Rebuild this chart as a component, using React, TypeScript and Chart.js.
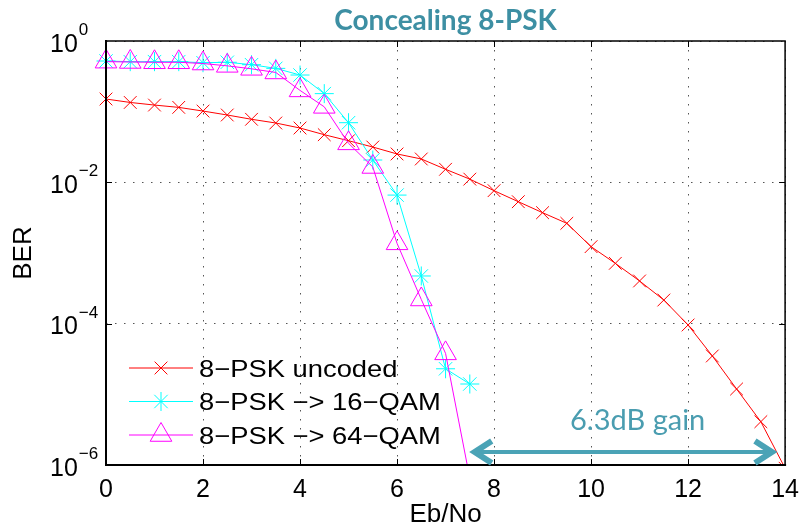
import React, { useEffect, useRef } from 'react';
import { Chart, registerables } from 'chart.js';

Chart.register(...registerables);

// ---------- data ----------
const ebNoUncoded = [0, 0.5, 1, 1.5, 2, 2.5, 3, 3.5, 4, 4.5, 5, 5.5, 6, 6.5, 7, 7.5, 8, 8.5, 9, 9.5, 10, 10.5, 11, 11.5, 12, 12.5, 13, 13.5, 14];
const berUncoded = [0.151, 0.135, 0.124, 0.115, 0.102, 0.0897, 0.078, 0.0691, 0.0587, 0.0472, 0.0388, 0.0316, 0.0252, 0.0214, 0.0153, 0.0111, 0.00762, 0.00532, 0.00372, 0.00263, 0.00123, 0.000714, 0.000402, 0.000216, 9.58e-5, 3.49e-5, 1.19e-5, 4.1e-6, 9e-7];

const ebNoCoded = [0, 0.5, 1, 1.5, 2, 2.5, 3, 3.5, 4, 4.5, 5, 5.5, 6, 6.5, 7, 7.5];
const ber16Qam = [0.521, 0.51, 0.51, 0.51, 0.493, 0.5, 0.462, 0.41, 0.33, 0.18, 0.0698, 0.0207, 0.0066, 0.000473, 2.3e-5, 1.4e-5];
const ber64Qam = [0.51, 0.505, 0.5, 0.5, 0.48, 0.445, 0.404, 0.359, 0.2, 0.117, 0.0356, 0.0165, 0.00137, 0.00022, 3.8e-5, 6.5e-7];

const seriesLabels = ['8\u2212PSK uncoded', '8\u2212PSK \u2212> 16\u2212QAM', '8\u2212PSK \u2212> 64\u2212QAM'];
const seriesColors = ['#ff0000', '#00ffff', '#ff00ff'];

const xMin = 0;
const xMax = 14;
const xTickStep = 2;
const yMin = 1e-6;
const yMax = 1;
const yTickValues = [1, 1e-2, 1e-4, 1e-6];
const yTickExponents = ['0', '\u22122', '\u22124', '\u22126'];

const titleText = 'Concealing 8-PSK';
const xAxisTitle = 'Eb/No';
const yAxisTitle = 'BER';
const gainText = '6.3dB gain';
const gainTextPos = { x: 10.96, y: 3.1e-6 };
const gainArrowX = [7.56, 13.77];
const gainArrowY = 1.53e-6;

// ---------- styles ----------
const HELV = '"Liberation Sans", Arial, Helvetica, sans-serif';
const TEAL_TITLE = '#3d8fa3';
const TEAL_TEXT = '#4a9db0';
const TEAL_ARROW = '#4aa3b6';

function drawX(ctx: CanvasRenderingContext2D, x: number, y: number, r: number) {
  const o = r * Math.SQRT1_2;
  ctx.beginPath();
  ctx.moveTo(x - o, y - o); ctx.lineTo(x + o, y + o);
  ctx.moveTo(x + o, y - o); ctx.lineTo(x - o, y + o);
  ctx.stroke();
}
function drawStar(ctx: CanvasRenderingContext2D, x: number, y: number, r: number) {
  ctx.beginPath();
  ctx.moveTo(x - r, y); ctx.lineTo(x + r, y);
  ctx.moveTo(x, y - r); ctx.lineTo(x, y + r);
  ctx.stroke();
  drawX(ctx, x, y, r);
}
function drawTri(ctx: CanvasRenderingContext2D, x: number, y: number, r: number) {
  ctx.beginPath();
  ctx.moveTo(x, y - r);
  ctx.lineTo(x + 0.866 * r, y + 0.5 * r);
  ctx.lineTo(x - 0.866 * r, y + 0.5 * r);
  ctx.closePath();
  ctx.stroke();
}

const overlayPlugin = {
  id: 'overlay',
  afterDatasetsDraw(chart: any) {
    const { ctx, chartArea: a, scales } = chart;
    const xs = scales.x;
    const ys = scales.y;
    ctx.save();

    // frame
    ctx.strokeStyle = '#000';
    ctx.lineWidth = 1.5;
    ctx.beginPath();
    ctx.moveTo(a.left, a.top); ctx.lineTo(a.right, a.top); ctx.lineTo(a.right, a.bottom);
    ctx.stroke();
    ctx.lineWidth = 2;
    ctx.beginPath();
    ctx.moveTo(a.left, a.top - 1); ctx.lineTo(a.left, a.bottom); ctx.lineTo(a.right + 1, a.bottom);
    ctx.stroke();

    // inward tick marks
    ctx.lineWidth = 1;
    ctx.beginPath();
    for (let v = xMin + xTickStep; v < xMax; v += xTickStep) {
      const px = Math.round(xs.getPixelForValue(v)) + 0.5;
      ctx.moveTo(px, a.bottom); ctx.lineTo(px, a.bottom - 6);
      ctx.moveTo(px, a.top); ctx.lineTo(px, a.top + 6);
    }
    yTickValues.forEach((v) => {
      if (v === yMin || v === yMax) return;
      const py = Math.round(ys.getPixelForValue(v)) + 0.5;
      ctx.moveTo(a.left, py); ctx.lineTo(a.left + 6, py);
      ctx.moveTo(a.right, py); ctx.lineTo(a.right - 6, py);
    });
    ctx.stroke();

    // y tick labels with superscript exponents
    ctx.fillStyle = '#000';
    ctx.textBaseline = 'alphabetic';
    ctx.textAlign = 'left';
    yTickValues.forEach((v, i) => {
      const py = ys.getPixelForValue(v);
      ctx.font = `25px ${HELV}`;
      ctx.fillText('10', 50, py + 10.5);
      const w = ctx.measureText('10').width;
      ctx.font = `17px ${HELV}`;
      ctx.fillText(yTickExponents[i], 50 + w + 1, py - 6);
    });

    // axis titles
    ctx.font = `26px ${HELV}`;
    ctx.textAlign = 'center';
    ctx.textBaseline = 'middle';
    ctx.fillText(xAxisTitle, (a.left + a.right) / 2, 515);
    ctx.save();
    ctx.translate(24, (a.top + a.bottom) / 2);
    ctx.rotate(-Math.PI / 2);
    ctx.fillText(yAxisTitle, 0, 0);
    ctx.restore();

    // title
    ctx.font = `bold 28px Lato, "Open Sans", sans-serif`;
    ctx.fillStyle = TEAL_TITLE;
    ctx.textBaseline = 'alphabetic';
    ctx.fillText(titleText, (a.left + a.right) / 2, 30);

    // legend
    const rowsY = [368, 401.5, 435];
    ctx.lineWidth = 1;
    seriesLabels.forEach((lab, i) => {
      const yy = rowsY[i];
      ctx.strokeStyle = seriesColors[i];
      ctx.beginPath();
      ctx.moveTo(129, yy); ctx.lineTo(193, yy);
      ctx.stroke();
      if (i === 0) drawX(ctx, 161, yy, 9);
      if (i === 1) drawStar(ctx, 161, yy, 9.5);
      if (i === 2) drawTri(ctx, 161, yy, 12.5);
      ctx.fillStyle = '#000';
      ctx.font = `24px ${HELV}`;
      ctx.textAlign = 'left';
      ctx.textBaseline = 'alphabetic';
      ctx.save();
      ctx.translate(199, yy + 8.5);
      ctx.scale(1.14, 1);
      ctx.fillText(lab, 0, 0);
      ctx.restore();
    });

    // gain annotation
    ctx.fillStyle = TEAL_TEXT;
    ctx.font = `29px Lato, "Open Sans", sans-serif`;
    ctx.textAlign = 'center';
    ctx.fillText(gainText, xs.getPixelForValue(gainTextPos.x), ys.getPixelForValue(gainTextPos.y));

    const ax0 = xs.getPixelForValue(gainArrowX[0]);
    const ax1 = xs.getPixelForValue(gainArrowX[1]);
    const ay = ys.getPixelForValue(gainArrowY);
    ctx.strokeStyle = TEAL_ARROW;
    ctx.lineWidth = 4;
    ctx.beginPath();
    ctx.moveTo(ax0 + 4, ay); ctx.lineTo(ax1 - 4, ay);
    ctx.stroke();
    ctx.lineWidth = 6;
    ctx.lineJoin = 'miter';
    ctx.beginPath();
    ctx.moveTo(ax1 - 19, ay - 11); ctx.lineTo(ax1 - 2, ay); ctx.lineTo(ax1 - 19, ay + 11);
    ctx.stroke();
    ctx.beginPath();
    ctx.moveTo(ax0 + 19, ay - 11); ctx.lineTo(ax0 + 2, ay); ctx.lineTo(ax0 + 19, ay + 11);
    ctx.stroke();

    ctx.restore();
  },
};

export default function App() {
  const ref = useRef<HTMLCanvasElement>(null);

  useEffect(() => {
    if (!ref.current) return;
    const clip = { left: 15, top: 15, right: 0, bottom: 0 };
    const chart = new Chart(ref.current, {
      type: 'line',
      data: {
        datasets: [
          {
            label: seriesLabels[0],
            data: ebNoUncoded.map((x, i) => ({ x, y: berUncoded[i] })),
            borderColor: seriesColors[0],
            borderWidth: 1,
            pointStyle: 'crossRot',
            pointRadius: 9,
            pointBorderWidth: 1,
            pointBorderColor: seriesColors[0],
            pointBackgroundColor: 'transparent',
            order: 2,
            clip,
          },
          {
            label: seriesLabels[1],
            data: ebNoCoded.map((x, i) => ({ x, y: ber16Qam[i] })),
            borderColor: seriesColors[1],
            borderWidth: 1,
            pointStyle: 'star',
            pointRadius: 9.5,
            pointBorderWidth: 1,
            pointBorderColor: seriesColors[1],
            pointBackgroundColor: 'transparent',
            order: 1,
            clip,
          },
          {
            label: seriesLabels[2],
            data: ebNoCoded.map((x, i) => ({ x, y: ber64Qam[i] })),
            borderColor: seriesColors[2],
            borderWidth: 1,
            pointStyle: 'triangle',
            pointRadius: 12.5,
            pointBorderWidth: 1,
            pointBorderColor: seriesColors[2],
            pointBackgroundColor: 'transparent',
            order: 0,
            clip,
          },
        ] as any,
      },
      options: {
        responsive: true,
        maintainAspectRatio: false,
        animation: false,
        devicePixelRatio: 1,
        layout: { padding: { top: 41, right: 18, left: 0, bottom: 0 } },
        plugins: {
          legend: { display: false },
          title: { display: false },
          tooltip: { enabled: false },
        },
        scales: {
          x: {
            type: 'linear',
            min: xMin,
            max: xMax,
            ticks: {
              stepSize: xTickStep,
              autoSkip: false,
              maxRotation: 0,
              padding: 10,
              color: '#000',
              font: { family: HELV, size: 25 },
            },
            grid: { color: '#555', lineWidth: 1, drawTicks: false },
            border: { display: false, dash: [1.5, 7.5] },
            afterFit: (s: any) => { s.height = 65; },
          },
          y: {
            type: 'logarithmic',
            min: yMin,
            max: yMax,
            ticks: { display: false },
            afterBuildTicks: (s: any) => { s.ticks = yTickValues.map((v) => ({ value: v })); },
            grid: { color: '#555', lineWidth: 1, drawTicks: false },
            border: { display: false, dash: [1.5, 7.5] },
            afterFit: (s: any) => { s.width = 106; },
          },
        } as any,
      },
      plugins: [overlayPlugin],
    });
    return () => chart.destroy();
  }, []);

  return (
    <div style={{ position: 'fixed', left: 0, top: 0, width: 809, height: 530, background: '#fff' }}>
      <canvas ref={ref} />
    </div>
  );
}
